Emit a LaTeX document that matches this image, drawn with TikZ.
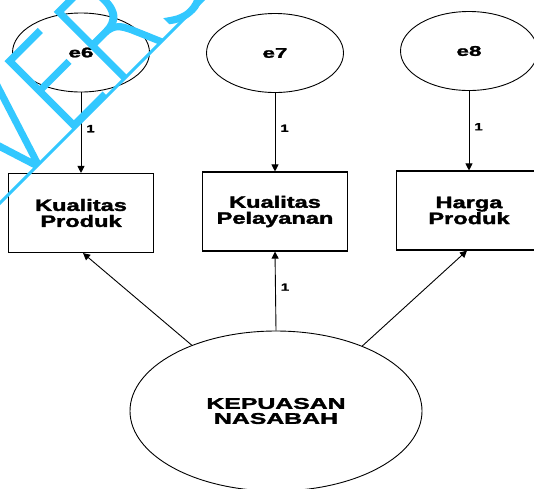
\documentclass[tikz,border=0pt]{standalone}
\usepackage{fontspec}
\setmainfont{Liberation Sans}[BoldFeatures={FakeBold=1.6}]
\newfontfamily\wmfont{DejaVuSans-ExtraLight.ttf}[FakeBold=1.5]
\usetikzlibrary{arrows.meta,shapes.geometric,calc}
\definecolor{wmcyan}{RGB}{51,200,255}
% horizontally widened text
\newcommand\hstretch[2]{\scalebox{#1}[1]{#2}}

\tikzset{
  errvar/.style={ellipse, draw, line width=0.9pt, minimum width=137pt,
    minimum height=79pt, inner sep=0pt,
    font=\bfseries\fontsize{14}{14}\selectfont},
  obsbox/.style={rectangle, draw, line width=1.1pt, minimum width=145pt,
    minimum height=79pt, align=center, inner sep=0pt,
    font=\bfseries\fontsize{16.5}{16}\selectfont},
  latent/.style={ellipse, draw, line width=0.9pt, minimum width=292pt,
    minimum height=160pt, align=center, inner sep=0pt,
    font=\bfseries\fontsize{15.5}{15}\selectfont},
  regpath/.style={line width=0.9pt, -{Triangle[width=7pt,length=7pt]}},
  weight/.style={font=\bfseries\fontsize{10.5}{10.5}\selectfont, inner sep=0pt},
}

\begin{document}
\begin{tikzpicture}[x=1pt,y=-1pt]
\clip (0,0) rectangle (534,488);
\fill[white] (0,0) rectangle (534,488);

% error terms
\node[errvar] (e6) at (81,52.5)  {\hstretch{1.6}{e6}};
\node[errvar] (e7) at (275,53)   {\hstretch{1.6}{e7}};
\node[errvar] (e8) at (469,51)   {\hstretch{1.6}{e8}};

% indicators
\node[obsbox] (b1) at (81,213)  {\hstretch{1.43}{Kualitas}\\\hstretch{1.43}{Produk}};
\node[obsbox] (b2) at (275,211.5) {\hstretch{1.43}{Kualitas}\\\hstretch{1.43}{Pelayanan}};
\node[obsbox] (b3) at (469,210.5) {\hstretch{1.43}{Harga}\\\hstretch{1.43}{Produk}};

% latent construct
\node[latent] (lat) at (276,411) {\hstretch{1.6}{KEPUASAN}\\\hstretch{1.6}{NASABAH}};

% error paths
\draw[regpath] (e6) -- node[weight, right=5pt, pos=0.45] {\hstretch{1.4}{1}} (b1);
\draw[regpath] (e7) -- node[weight, right=5pt, pos=0.45] {\hstretch{1.4}{1}} (b2);
\draw[regpath] (e8) -- node[weight, right=5pt, pos=0.45] {\hstretch{1.4}{1}} (b3);

% loadings
\draw[regpath] (lat.142.8) -- ([xshift=2pt]b1.south);
\draw[regpath] (lat.north) -- node[weight, right=5pt, pos=0.55] {\hstretch{1.4}{1}} (b2.south);
\draw[regpath] (lat.37.9) -- ([xshift=-2pt]b3.south);

% watermark
\coordinate (wmA) at (-5,208);
\coordinate (wmB) at (208,-5);
\draw[wmcyan, line width=3pt] (wmA) -- (wmB);
\node[wmcyan, rotate=45, anchor=base west, inner sep=0pt,
  font=\wmfont\fontsize{110}{110}\selectfont] (wm) at (11,192)
  {\scalebox{1}[1.2]{VERS}};
\end{tikzpicture}
\end{document}
